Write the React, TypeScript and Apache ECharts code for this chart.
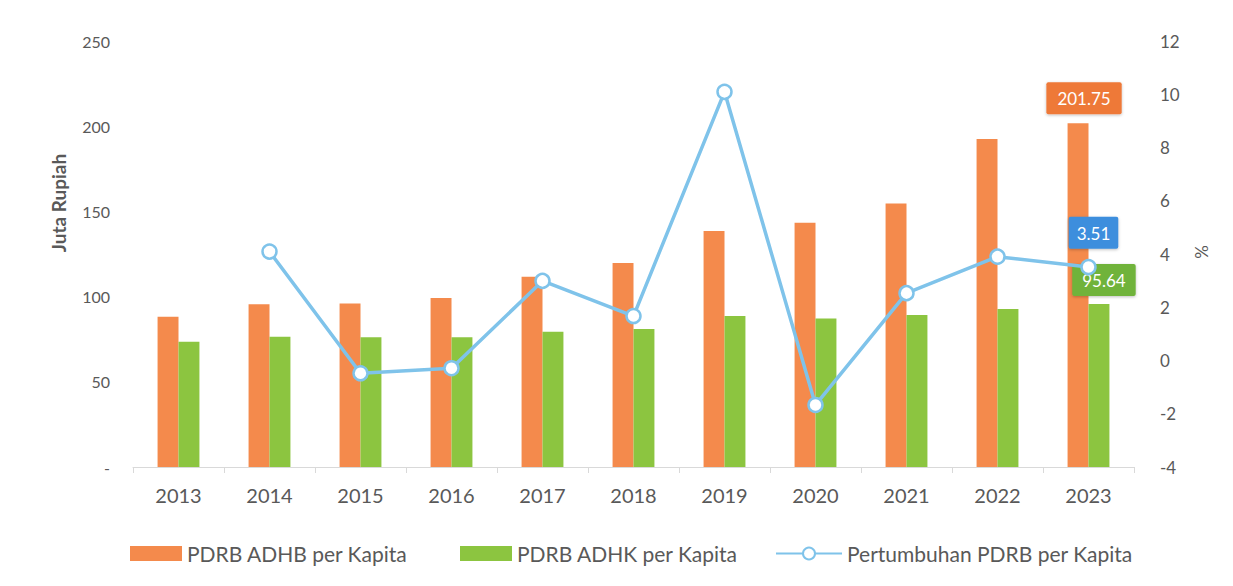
import React, { useEffect, useRef } from "react";
import * as echarts from "echarts";

const years = ["2013", "2014", "2015", "2016", "2017", "2018", "2019", "2020", "2021", "2022", "2023"];
const adhb = [88.2, 95.5, 96.0, 99.2, 111.6, 119.7, 138.5, 143.4, 154.7, 192.5, 201.75];
const adhk = [73.5, 76.5, 76.1, 76.1, 79.4, 81.0, 88.6, 87.2, 89.2, 92.7, 95.64];
const growth: (number | null)[] = [null, 4.09, -0.48, -0.29, 2.99, 1.67, 10.09, -1.67, 2.53, 3.9, 3.51];
const leftTicks = { min: 0, max: 250, interval: 50 };
const rightTicks = { min: -4, max: 12, interval: 2 };
const names = ["PDRB ADHB per Kapita", "PDRB ADHK per Kapita", "Pertumbuhan PDRB per Kapita"];

const FONT = "Lato, 'Open Sans', sans-serif";
const ORANGE = "#F48A4C";
const GREEN = "#8CC540";
const BLUE = "#7FC3EA";
const TXT = "#595959";

export default function App() {
  const ref = useRef<HTMLDivElement>(null);
  useEffect(() => {
    if (!ref.current) return;
    const chart = echarts.init(ref.current, null, { renderer: "svg" });
    const last = years.length - 1;
    const boxLabel = (bg: string, offset: number[], distance: number, pad: number[]) => ({
      show: true,
      position: "top",
      distance,
      offset,
      backgroundColor: bg,
      color: "#fff",
      fontSize: 17,
      fontFamily: FONT,
      padding: pad,
      borderRadius: 2,
      shadowColor: "rgba(0,0,0,0.25)",
      shadowBlur: 3,
      shadowOffsetY: 1,
    });
    const legendText = { fontSize: 21, color: TXT, fontFamily: FONT };
    chart.setOption({
      animation: false,
      textStyle: { fontFamily: FONT },
      grid: { left: 133, right: 99, top: 41, bottom: 119, containLabel: false },
      legend: [
        {
          data: [names[0]], left: 125, top: 538, itemWidth: 52, itemHeight: 15, itemGap: 5,
          textStyle: legendText, icon: "rect",
        },
        {
          data: [names[1]], left: 455, top: 538, itemWidth: 52, itemHeight: 15, itemGap: 5,
          textStyle: legendText, icon: "rect",
        },
        {
          data: [names[2]], left: 770, top: 538, itemWidth: 66, itemHeight: 15, itemGap: 5,
          textStyle: legendText,
        },
      ],
      xAxis: {
        type: "category",
        data: years,
        axisLine: { lineStyle: { color: "#d9d9d9", width: 1 } },
        axisTick: { show: true, length: 6, lineStyle: { color: "#d9d9d9" } },
        axisLabel: { color: TXT, fontSize: 20, margin: 18, fontFamily: FONT },
      },
      yAxis: [
        {
          type: "value",
          ...leftTicks,
          axisLine: { show: false },
          axisTick: { show: false },
          splitLine: { show: false },
          axisLabel: {
            color: TXT, fontSize: 16, margin: 23, fontFamily: FONT,
            formatter: (v: number) => (v === 0 ? "-" : String(v)),
          },
        },
        {
          type: "value",
          ...rightTicks,
          axisLine: { show: false },
          axisTick: { show: false },
          splitLine: { show: false },
          axisLabel: { color: TXT, fontSize: 17, margin: 26, fontFamily: FONT },
        },
      ],
      graphic: [
        {
          type: "text", x: 58, y: 203, rotation: Math.PI / 2,
          style: {
            text: "Juta Rupiah", fill: TXT, fontSize: 19, fontWeight: "bold", fontFamily: FONT,
            align: "center", verticalAlign: "middle",
          },
        },
        {
          type: "text", x: 1201, y: 252, rotation: Math.PI / 2,
          style: {
            text: "%", fill: TXT, fontSize: 17, fontFamily: FONT,
            align: "center", verticalAlign: "middle",
          },
        },
      ],
      series: [
        {
          name: names[0],
          type: "bar",
          yAxisIndex: 0,
          barWidth: "23%",
          barGap: "0%",
          itemStyle: { color: ORANGE },
          data: adhb.map((v, i) =>
            i === last ? { value: v, label: boxLabel("#EE7939", [6, 0], 9, [8, 11, 7, 11]) } : v
          ),
        },
        {
          name: names[1],
          type: "bar",
          yAxisIndex: 0,
          barWidth: "23%",
          barGap: "0%",
          itemStyle: { color: GREEN },
          data: adhk.map((v, i) =>
            i === last ? { value: v, label: boxLabel("#70B33A", [5, 0], 8, [8, 10, 7, 10]) } : v
          ),
        },
        {
          name: names[2],
          type: "line",
          yAxisIndex: 1,
          z: 5,
          symbol: "circle",
          symbolSize: 14,
          connectNulls: false,
          lineStyle: { color: BLUE, width: 3.5 },
          itemStyle: { color: "#ffffff", borderColor: BLUE, borderWidth: 2.5 },
          data: growth.map((v, i) =>
            i === last ? { value: v, label: boxLabel("#3D8EDD", [5, 0], 10, [8, 8, 7, 8]) } : v
          ),
        },
      ],
    });
    return () => chart.dispose();
  }, []);
  return <div ref={ref} style={{ width: 1233, height: 586, margin: -8 }} />;
}
